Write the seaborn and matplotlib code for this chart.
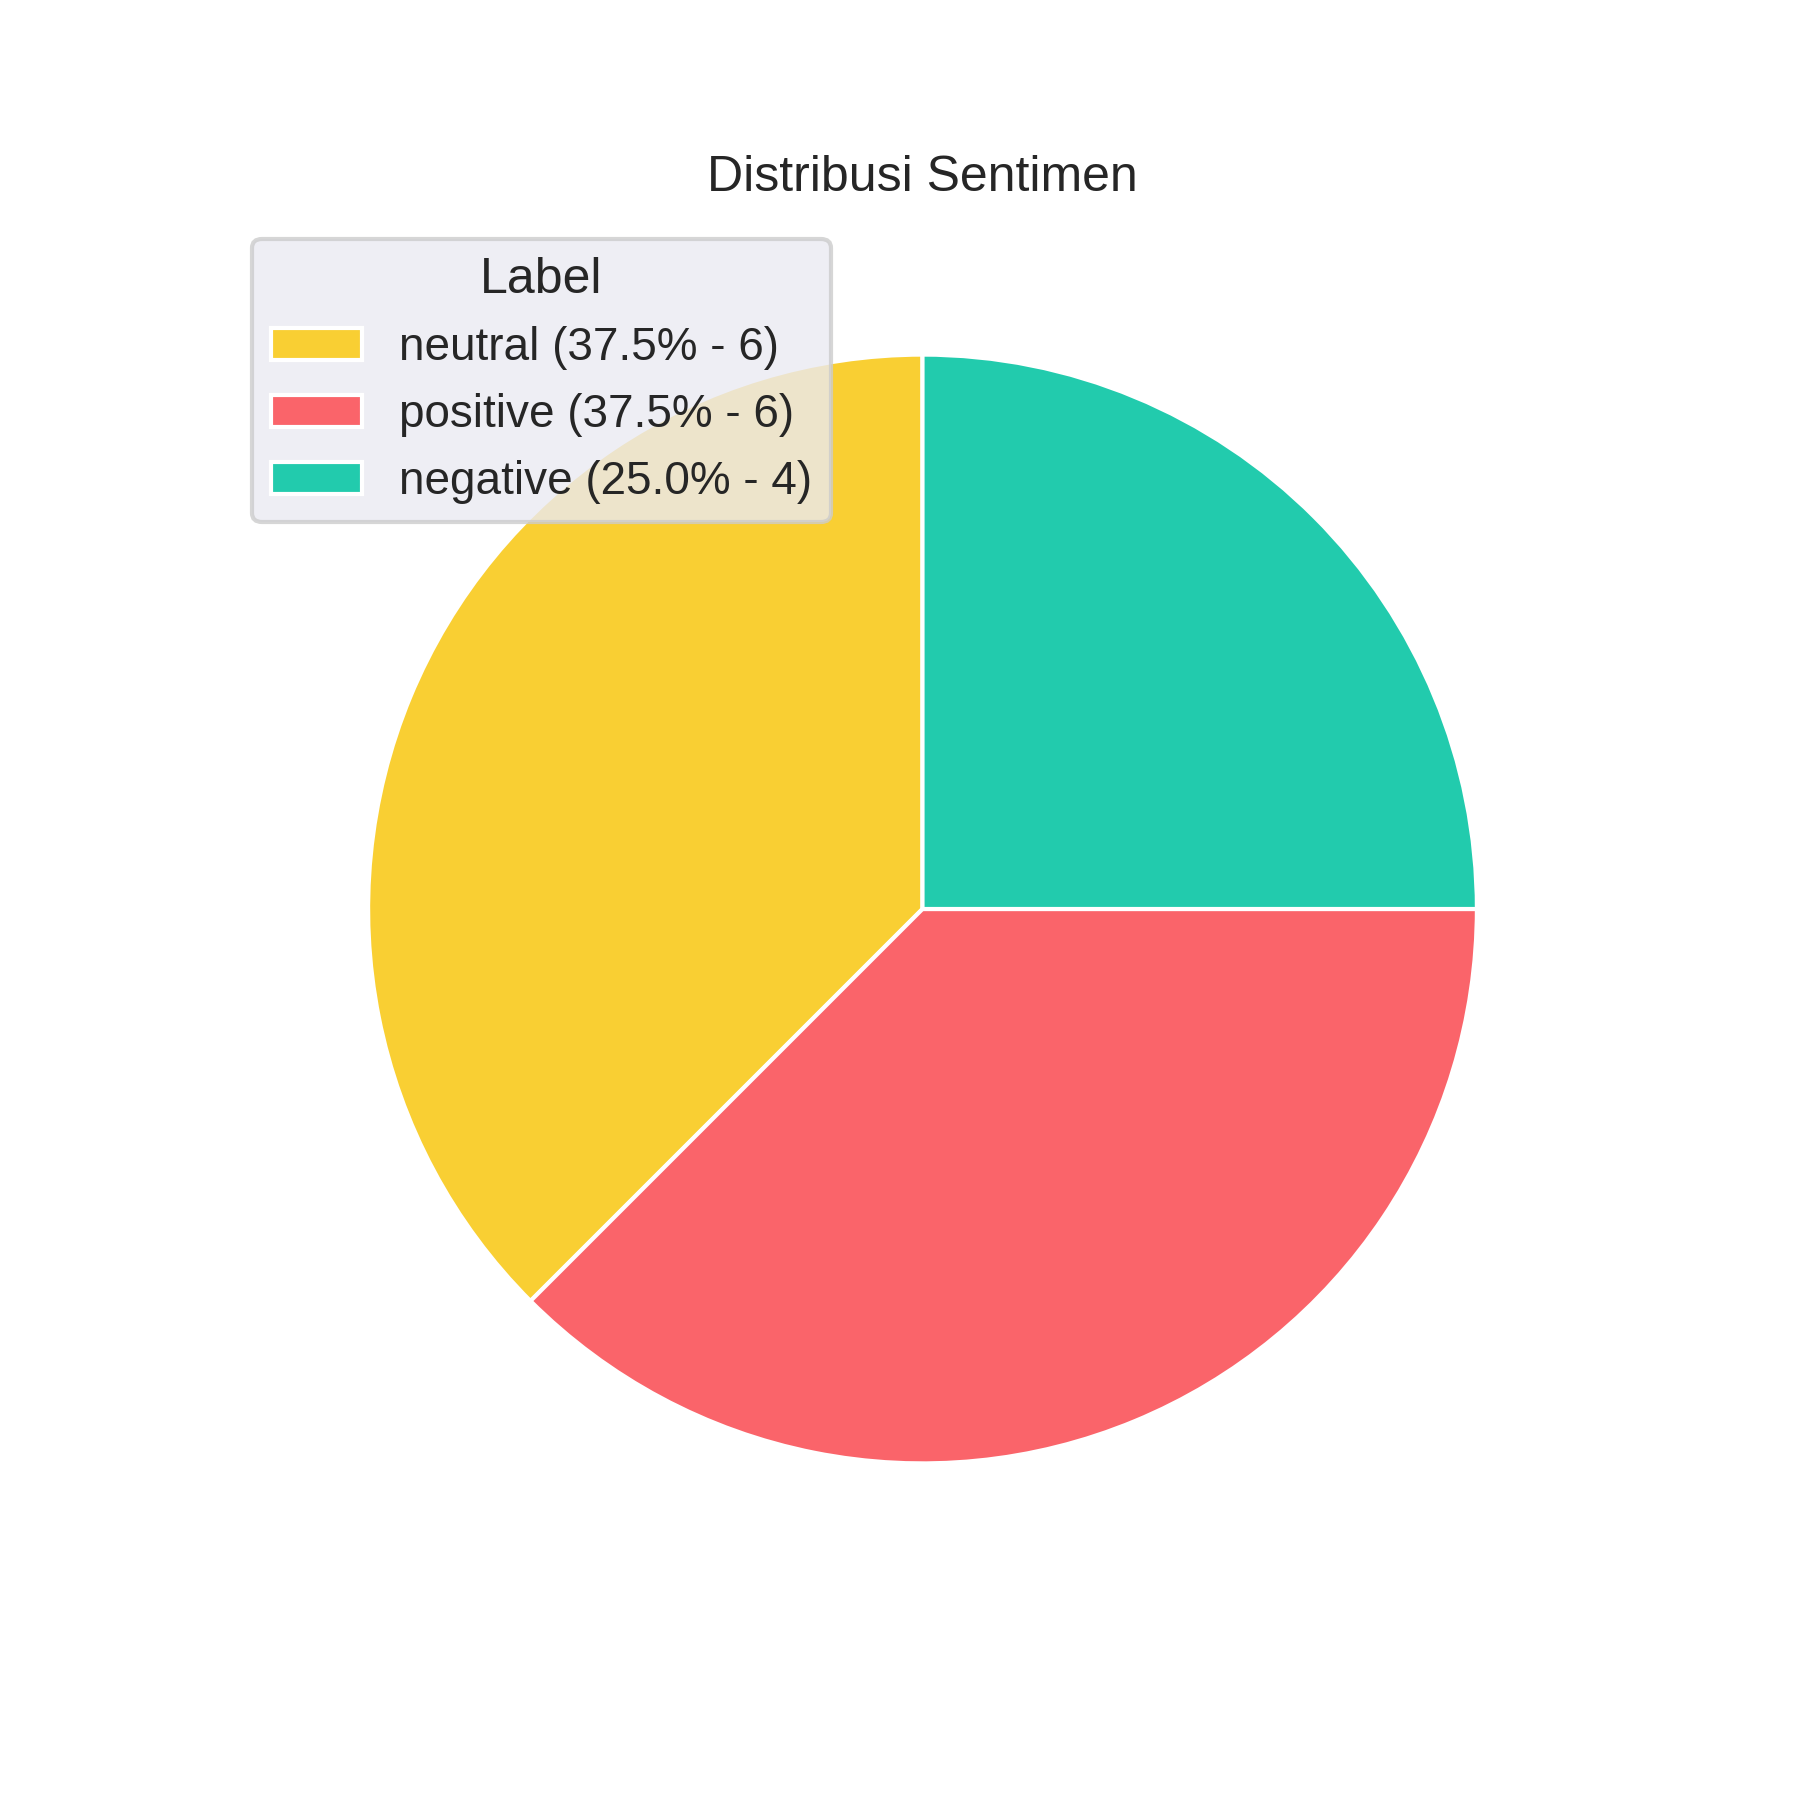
import matplotlib
matplotlib.use("Agg")
import matplotlib.pyplot as plt
import seaborn as sns

labels = ["neutral", "positive", "negative"]
counts = [6, 6, 4]
colors = ["#F9CF33", "#FA646A", "#22CBAD"]

sns.set_theme()
plt.rcParams['font.family'] = ['Liberation Sans', 'DejaVu Sans']

fig, ax = plt.subplots(figsize=(6, 6), dpi=300)
total = sum(counts)
wedges, _ = ax.pie(counts, colors=colors, startangle=90,
                   wedgeprops=dict(edgecolor="white", linewidth=1))
legend_labels = [f"{l} ({c / total * 100:.1f}% - {c})" for l, c in zip(labels, counts)]
ax.legend(wedges, legend_labels, title="Label", loc="upper left")
ax.set_title("Distribusi Sentimen")
fig.savefig("out.png", dpi=300)
